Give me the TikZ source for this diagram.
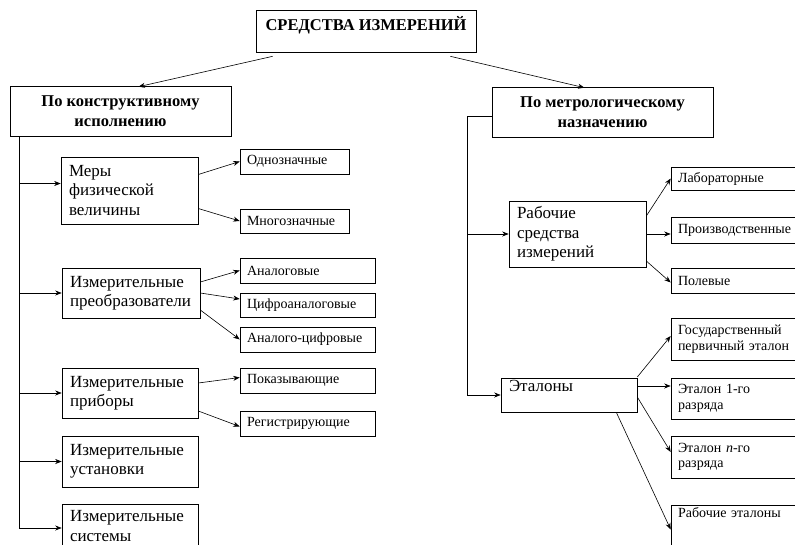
\documentclass[tikz,border=0pt]{standalone}
\usepackage{fontspec}
\setmainfont{Liberation Serif}
\usetikzlibrary{arrows.meta,positioning,calc}

\begin{document}
\begin{tikzpicture}[
    x=1pt, y=-1pt,
    >={Stealth[length=6.5pt,width=5pt]},
    line width=0.6pt,
    head/.style={draw, align=center, font=\bfseries\fontsize{16.5}{20}\selectfont},
    big/.style={draw, align=left, inner xsep=8pt, inner ysep=1pt, font=\fontsize{17}{19.5}\selectfont},
    small/.style={draw, align=left, inner xsep=7pt, inner ysep=1pt, font=\fontsize{14}{15.5}\selectfont}
]
\useasboundingbox (0,0) rectangle (795,544);
\clip (0,0) rectangle (795,544);

% top levels
\node[head, minimum width=220pt, minimum height=42pt, text height=12pt, text depth=14pt] (title) at (366,31) {СРЕДСТВА ИЗМЕРЕНИЙ};
\node[head, minimum width=221pt, minimum height=50pt] (kons) at (120.5,111) {По конструктивному\\исполнению};
\node[head, minimum width=221pt, minimum height=50pt] (metr) at (602.5,112) {По метрологическому\\назначению};

\draw[->] ($(title.south west)+(17,4)$) -- ($(kons.north)+(18,1)$);
\draw[->] ($(title.south east)+(-26,4)$) -- ($(metr.north)+(-18,1)$);

% left branch
\node[big, text width=121pt, minimum height=67pt] (mery) at (129.5,190.5) {Меры\\физической\\величины};
\node[big, text width=122pt, minimum height=50pt] (preob) at (131,293) {Измерительные\\преобразователи};
\node[big, text width=120pt, minimum height=50pt] (pribor) at (130,393) {Измерительные\\приборы};
\node[big, text width=120pt, minimum height=51pt] (ustan) at (130,461.5) {Измерительные\\установки};
\node[big, text width=120pt, minimum height=44pt] (sist) at (130,526) {Измерительные\\системы};

\node[small, text width=95pt, minimum height=25pt] (odno) at (294.5,161.5) {Однозначные};
\node[small, text width=95pt, minimum height=24pt] (mnogo) at (294.5,221) {Многозначные};
\node[small, text width=121pt, minimum height=25pt] (analog) at (307.5,270.5) {Аналоговые};
\node[small, text width=121pt, minimum height=24pt] (cifro) at (307.5,305) {Цифроаналоговые};
\node[small, text width=121pt, minimum height=25pt] (analcif) at (307.5,339.5) {Аналого-цифровые};
\node[small, text width=121pt, minimum height=25pt] (pokaz) at (307.5,380.5) {Показывающие};
\node[small, text width=121pt, minimum height=25pt] (regist) at (307.5,423.5) {Регистрирующие};

\coordinate (ltop) at ($(kons.south west)+(10,0)$);
\draw[->] (ltop) |- ($(sist.west)+(0,2)$);
\draw[->] (ltop |- mery.west) ++(0,-7) -- ($(mery.west)+(0,-7)$);
\foreach \n in {preob,pribor,ustan}
    \draw[->] (ltop |- \n.west) -- (\n.west);

\draw[->] ($(mery.east)+(0,-16)$) -- (odno.west);
\draw[->] ($(mery.east)+(0,18)$) -- (mnogo.west);
\draw[->] ($(preob.east)+(0,-11)$) -- (analog.west);
\draw[->] (preob.east) -- ($(cifro.west)+(0,-6)$);
\draw[->] ($(preob.east)+(0,17)$) -- (analcif.west);
\draw[->] ($(pribor.east)+(0,-10)$) -- ($(pokaz.west)+(0,-3)$);
\draw[->] ($(pribor.east)+(0,18)$) -- ($(regist.west)+(0,3)$);

% right branch
\node[big, text width=121pt, minimum height=66pt] (rabsi) at (577.5,234) {Рабочие\\средства\\измерений};
\node[big, text width=120pt, minimum height=34pt, text height=12pt, text depth=20pt] (etalony) at (569,395) {Эталоны};

\node[small, text width=126pt, minimum height=23pt] (labor) at (741,178.5) {Лабораторные};
\node[small, text width=126pt, minimum height=26pt] (proizv) at (741,230) {Производственные};
\node[small, text width=126pt, minimum height=25pt] (polev) at (741,280.5) {Полевые};
\node[small, text width=126pt, minimum height=42pt] (gos) at (741,339) {Государственный\\первичный эталон};
\node[small, text width=126pt, minimum height=41pt] (et1) at (741,398.5) {Эталон 1-го\\разряда};
\node[small, text width=126pt, minimum height=42pt] (etn) at (741,457) {Эталон \textit{n}-го\\разряда};
\node[small, text width=126pt, minimum height=45pt, text height=11pt, text depth=31pt] (rabet) at (741,527.5) {Рабочие эталоны};

\coordinate (rtop) at ($(metr.west)+(-24,4)$);
\draw ($(metr.west)+(0,4)$) -- (rtop);
\draw[->] (rtop) |- (etalony.west);
\draw[->] (rtop |- rabsi.west) -- (rabsi.west);

\draw[->] ($(rabsi.east)+(0,-18)$) -- (labor.west);
\draw[->] (rabsi.east) -- (rabsi.east -| proizv.west);
\draw[->] ($(rabsi.east)+(0,27)$) -- ($(polev.west)+(0,2)$);

\draw[->] ($(etalony.east)+(0,-18)$) -- ($(gos.west)+(0,-3)$);
\draw[->] ($(etalony.east)+(0,-9)$) -- ($(etalony.east -| et1.west)+(0,-9)$);
\draw[->] ($(etalony.east)+(0,2)$) -- ($(etn.west)+(0,-5)$);
\draw[->] ($(etalony.south east)+(-21,0)$) -- ($(rabet.west)+(0,2)$);
\end{tikzpicture}
\end{document}
